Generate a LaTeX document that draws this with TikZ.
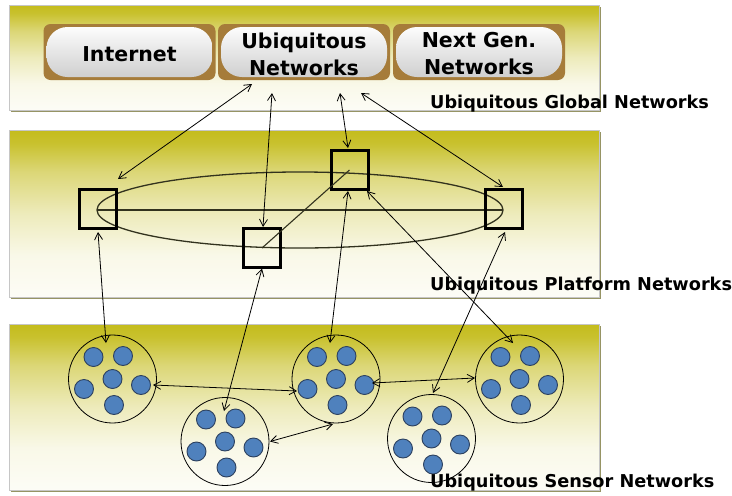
\documentclass[tikz,border=0pt]{standalone}
\usepackage{fontspec}
\setmainfont{DejaVu Sans}
\usetikzlibrary{arrows.meta,shapes.geometric}
\definecolor{olv}{RGB}{196,188,28}
\definecolor{btnbrown}{RGB}{166,124,58}
\definecolor{dotblue}{RGB}{79,129,189}
\definecolor{dotedge}{RGB}{45,65,95}
\definecolor{shadowc}{RGB}{150,148,100}
\definecolor{ringc}{RGB}{50,50,30}
\pgfdeclareverticalshading{panelshade}{100bp}{color(0bp)=(white); color(25bp)=(white!96!olv); color(37.5bp)=(white!90!olv); color(50bp)=(white!70!olv); color(62.5bp)=(white!40!olv); color(71bp)=(white!8!olv); color(75bp)=(olv); color(100bp)=(olv)}
\begin{document}
\begin{tikzpicture}[x=1pt,y=-1pt,
  panel/.style={shading=panelshade, draw=gray!45, line width=0.6pt},
  pshadow/.style={fill=shadowc},
  btn/.style={rounded corners=7pt, fill=btnbrown, minimum width=172pt, minimum height=56pt,
    inner sep=0pt, align=center, font=\fontsize{20.5}{27}\selectfont\bfseries,
    path picture={\shade[top color=white, bottom color=black!20, rounded corners=21pt]
      ([shift={(3pt,-3pt)}]path picture bounding box.north west) rectangle
      ([shift={(-3pt,3pt)}]path picture bounding box.south east);}},
  btntext/.style={inner sep=0pt, align=center, font=\fontsize{20.5}{27}\selectfont\bfseries},
  sq/.style={draw=black, line width=3pt, minimum width=37pt, minimum height=39pt, inner sep=0pt},
  cluster/.style={circle, draw=black, line width=0.8pt, minimum size=88pt, inner sep=0pt},
  dot/.style={fill=dotblue, draw=dotedge, line width=0.9pt},
  biarrow/.style={{Straight Barb[length=7pt,width=8pt]}-{Straight Barb[length=7pt,width=8pt]}, line width=0.8pt, black},
  lbl/.style={anchor=base west, inner sep=0pt, font=\fontsize{17.7}{20}\selectfont\bfseries}
]
\useasboundingbox (0,0) rectangle (732,496);
% panels
\fill[pshadow] (11,7) rectangle (601,112);
\path[panel] (9,5) rectangle (599,110);
\fill[pshadow] (11,132) rectangle (601,299);
\path[panel] (9,130) rectangle (599,297);
\fill[pshadow] (11,326) rectangle (601,492);
\path[panel] (9,324) rectangle (599,490);
% buttons
\node[btn] (inet) at (129.5,52) {};
\node[btn] (ubi) at (304,52) {};
\node[btn] (ngn) at (479,52) {};
\node[btntext, yshift=-2.5pt] (inett) at (inet.center) {Internet};
\node[btntext, yshift=-2pt] (ubit) at (ubi.center) {Ubiquitous\\Networks};
\node[btntext, yshift=-2pt] (ngnt) at (ngn.center) {Next Gen.\\Networks};
% platform ring
\node[ellipse, draw=ringc, line width=1.3pt, minimum width=406pt, minimum height=76pt, inner sep=0pt, outer sep=0pt] (ring) at (300,210) {};
\draw[ringc, line width=1.3pt] (ring.west) -- (ring.east);
% squares
\node[sq] (A) at (97.5,209) {};
\node[sq] (B) at (262,248) {};
\node[sq] (C) at (349.5,170) {};
\node[sq] (D) at (504,209) {};
\draw[ringc, line width=1.1pt] (B.center) -- (C.center);
% clusters
\node[cluster] (c1) at (112.5,379) {};
\node[cluster] (c2) at (225,441.5) {};
\node[cluster] (c3) at (336,379) {};
\node[cluster] (c4) at (431.5,438.5) {};
\node[cluster] (c5) at (519.5,379) {};
\foreach \c in {c1,c2,c3,c4,c5}{
  \foreach \dx/\dy in {-19/-22, 10.5/-23, 0/0, -28.5/10, 28.5/6, 1.5/26}{
    \filldraw[dot] ([shift={(\dx,\dy)}]\c.center) circle[radius=9.5pt];
  }
}
% arrows global <-> platform
\draw[biarrow] ([shift={(-52,32)}]ubi.center) -- ([shift={(20.5,-30)}]A.center);
\draw[biarrow] ([shift={(-32,41)}]ubi.center) -- ([shift={(1,-21)}]B.center);
\draw[biarrow] ([shift={(36,41)}]ubi.center) -- ([shift={(-1.5,-22)}]C.center);
\draw[biarrow] ([shift={(57,41)}]ubi.center) -- ([shift={(-1,-22)}]D.center);
% arrows platform <-> sensor
\draw[biarrow] ([shift={(0.5,23)}]A.center) -- ([shift={(-6.5,-36)}]c1.center);
\draw[biarrow] ([shift={(0,20.5)}]B.center) -- ([shift={(-1,-30.5)}]c2.center);
\draw[biarrow] ([shift={(-1.5,21)}]C.center) -- ([shift={(-6,-36)}]c3.center);
\draw[biarrow] ([shift={(17.5,21)}]C.center) -- ([shift={(-6.5,-36)}]c5.center);
\draw[biarrow] ([shift={(1,23)}]D.center) -- ([shift={(1.5,-45.5)}]c4.center);
% arrows among sensor clusters
\draw[biarrow] ([shift={(40.5,6)}]c1.center) -- ([shift={(-39,12)}]c3.center);
\draw[biarrow] ([shift={(45,0)}]c2.center) -- ([shift={(-3,45)}]c3.center);
\draw[biarrow] ([shift={(36,4)}]c3.center) -- ([shift={(-44.5,-1)}]c5.center);
% labels
\node[lbl] (lg) at (430,108) {Ubiquitous Global Networks};
\node[lbl] (lp) at (430,290) {Ubiquitous Platform Networks};
\node[lbl] (ls) at (430,487) {Ubiquitous Sensor Networks};
\end{tikzpicture}
\end{document}
